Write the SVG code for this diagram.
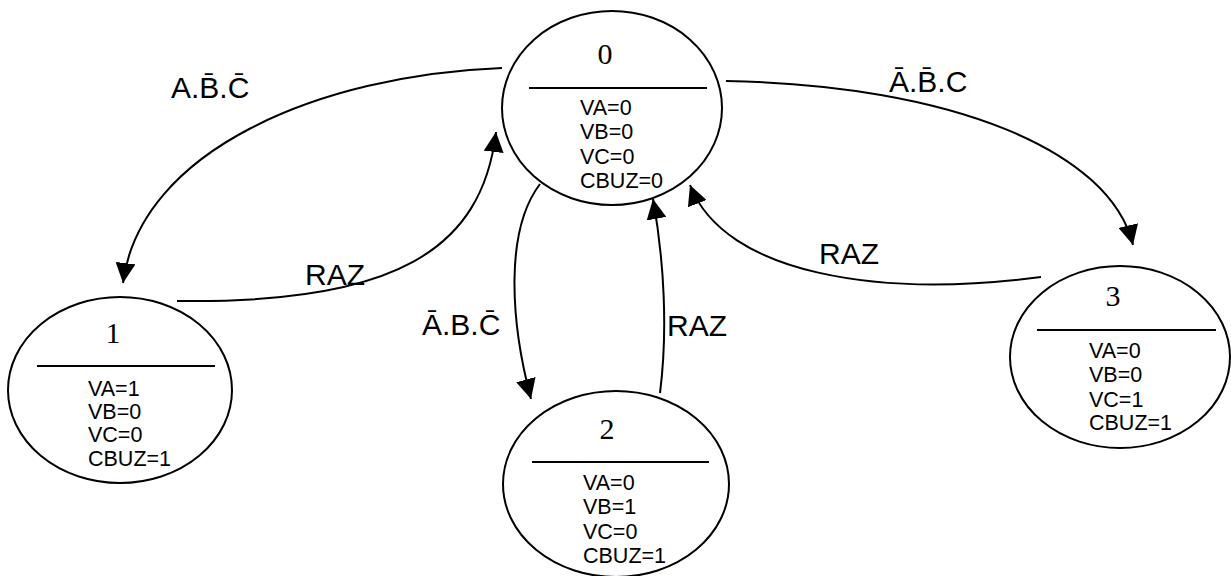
<svg xmlns="http://www.w3.org/2000/svg" width="1231" height="576" viewBox="0 0 1231 576">
<style>
.st{fill:#fff;stroke:#000;stroke-width:2}
.sep{stroke:#000;stroke-width:2}
.num{font-family:"Liberation Serif",serif;font-size:30px;text-anchor:middle;fill:#000}
.var{font-family:"Liberation Sans",Arial,sans-serif;font-size:21.5px;fill:#000}
.lbl{font-family:"Liberation Sans",Arial,sans-serif;font-size:30px;fill:#000}
.edge{fill:none;stroke:#000;stroke-width:2}
</style>
<defs>
<marker id="ah" markerUnits="userSpaceOnUse" markerWidth="20" markerHeight="20" viewBox="0 0 20 20" refX="20" refY="10" orient="auto">
<path d="M0,0 L20,10 L0,20 z" fill="#000"/>
</marker>
</defs>
<g id="connectors">
<path class="edge" marker-end="url(#ah)" d="M502,68 C320,75 140,150 123,283"/>
<path class="edge" marker-end="url(#ah)" d="M177,301 C395,304 482,250 496,132"/>
<path class="edge" marker-end="url(#ah)" d="M540,184 C505,230 510,320 531,399"/>
<path class="edge" marker-end="url(#ah)" d="M660,393 C668,330 664,260 653,199"/>
<path class="edge" marker-end="url(#ah)" d="M726,81 C950,85 1110,150 1133,245"/>
<path class="edge" marker-end="url(#ah)" d="M1041,277 C880,298 725,275 690,185"/>
</g>
<g id="labels">
<text class="lbl" x="171" y="98">A.B̄.C̄</text>
<text class="lbl" x="889" y="92">Ā.B̄.C</text>
<text class="lbl" x="305" y="285">RAZ</text>
<text class="lbl" x="819" y="264">RAZ</text>
<text class="lbl" x="422" y="335">Ā.B.C̄</text>
<text class="lbl" x="667" y="336">RAZ</text>
</g>
<g id="state0">
<ellipse class="st" cx="612" cy="108" rx="110" ry="97"/>
<line class="sep" x1="529" y1="88" x2="707" y2="88"/>
<text class="num" x="605" y="64">0</text>
<text class="var" x="580" y="115">VA=0</text>
<text class="var" x="580" y="139">VB=0</text>
<text class="var" x="580" y="164">VC=0</text>
<text class="var" x="580" y="188">CBUZ=0</text>
</g>
<g id="state1">
<ellipse class="st" cx="120" cy="390" rx="112" ry="93"/>
<line class="sep" x1="37" y1="366" x2="215" y2="366"/>
<text class="num" x="113" y="343">1</text>
<text class="var" x="88" y="396">VA=1</text>
<text class="var" x="88" y="419">VB=0</text>
<text class="var" x="88" y="442">VC=0</text>
<text class="var" x="88" y="466">CBUZ=1</text>
</g>
<g id="state2">
<ellipse class="st" cx="616" cy="484" rx="113" ry="93"/>
<line class="sep" x1="532" y1="462" x2="709" y2="462"/>
<text class="num" x="607" y="439">2</text>
<text class="var" x="583" y="490">VA=0</text>
<text class="var" x="583" y="514">VB=1</text>
<text class="var" x="583" y="539">VC=0</text>
<text class="var" x="583" y="563">CBUZ=1</text>
</g>
<g id="state3">
<ellipse class="st" cx="1120" cy="357" rx="110" ry="91"/>
<line class="sep" x1="1037" y1="330" x2="1216" y2="330"/>
<text class="num" x="1113" y="306">3</text>
<text class="var" x="1089" y="358">VA=0</text>
<text class="var" x="1089" y="382">VB=0</text>
<text class="var" x="1089" y="407">VC=1</text>
<text class="var" x="1089" y="430">CBUZ=1</text>
</g>
</svg>
